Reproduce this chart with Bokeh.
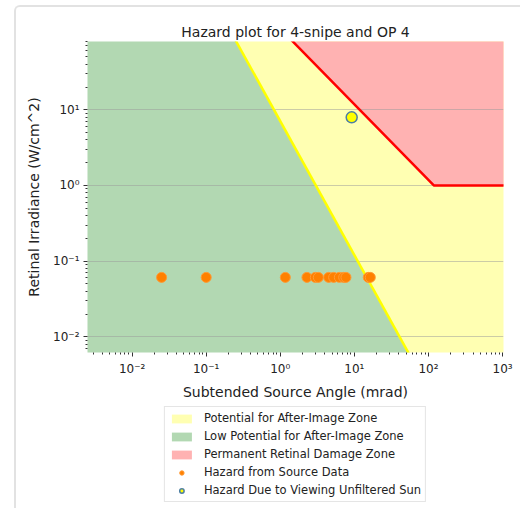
from bokeh.plotting import figure
from bokeh.models import Legend, LegendItem, FixedTicker, Range1d
from bokeh.layouts import column
from bokeh.embed import file_html
from bokeh.resources import INLINE

# ---------------- data ----------------
title_text = "Hazard plot for 4-snipe and OP 4"
x_label = "Subtended Source Angle (mrad)"
y_label = "Retinal Irradiance (W/cm^2)"

# after-image threshold boundary (yellow line)
ai_x = [0.1, 100.0]
ai_y = [417.0, 0.00204]
# permanent retinal damage boundary (red line)
burn_x = [1.0, 118.0, 1.0e5]
burn_y = [118.0, 1.0, 1.0]

# hazard from source data
src_x = [0.025, 0.1, 1.17, 2.29, 2.97, 3.26, 4.5, 5.25, 6.26, 7.17, 7.7, 15.4, 16.4]
src_y = [0.061, 0.061, 0.061, 0.061, 0.061, 0.061, 0.061, 0.061, 0.061, 0.061, 0.061, 0.061, 0.061]
# hazard from unfiltered sun
sun_x = [9.2]
sun_y = [7.95]

legend_labels = ["Potential for After-Image Zone", "Low Potential for After-Image Zone",
                 "Permanent Retinal Damage Zone", "Hazard from Source Data",
                 "Hazard Due to Viewing Unfiltered Sun"]

x_major = [0.01, 0.1, 1, 10, 100, 1000]
x_major_labels = ["10⁻²", "10⁻¹", "10⁰", "10¹", "10²", "10³"]
y_major = [0.01, 0.1, 1, 10]
y_major_labels = ["10⁻²", "10⁻¹", "10⁰", "10¹"]

x_lo, x_hi = 0.0025, 1030.0
y_lo, y_hi = 0.0062, 80.0
FAR_LO, FAR_HI = 1e-5, 1e5

FONT = "DejaVu Sans"
C_GREEN, C_YELLOW, C_RED = "#b2d8b2", "#ffffb2", "#ffb2b2"
C_SRC, C_SRC_EDGE = "#ff8000", "#ff9a33"
C_SUN, C_SUN_EDGE = "#ffff00", "#4d7fa3"

p = figure(width=504, height=397, x_axis_type="log", y_axis_type="log",
           x_range=Range1d(x_lo, x_hi), y_range=Range1d(y_lo, y_hi),
           output_backend="svg", toolbar_location=None,
           min_border_left=71, min_border_right=17, min_border_top=34, min_border_bottom=52)
p.outline_line_color = None
p.background_fill_color = "white"
p.border_fill_color = "white"

p.title.text = title_text
p.title.align = "center"
p.title.text_font = FONT
p.title.text_font_style = "normal"
p.title.text_font_size = "14px"
p.title.text_color = "#222222"
p.title.standoff = 4

# zones
p.patch(x=[FAR_LO, ai_x[0], ai_x[1], FAR_LO], y=[ai_y[0], ai_y[0], ai_y[1], ai_y[1]],
        fill_color=C_GREEN, line_color=None)
p.patch(x=[ai_x[0], FAR_HI, FAR_HI, ai_x[1]], y=[ai_y[0], ai_y[0], ai_y[1], ai_y[1]],
        fill_color=C_YELLOW, line_color=None)
p.patch(x=burn_x + [burn_x[-1], burn_x[0]], y=burn_y + [burn_y[0], burn_y[0]],
        fill_color=C_RED, line_color=None)

# horizontal grid at the major y ticks: over the fills, under the lines and markers
p.xgrid.visible = False
p.ygrid.visible = False
p.hspan(y=y_major, line_color="#9a9a9a", line_alpha=0.5, line_width=1)

p.line(ai_x, ai_y, line_color="#ffff00", line_width=2.5)
p.line(burn_x, burn_y, line_color="#ff0000", line_width=2.5)

p.scatter(src_x, src_y, size=10, fill_color=C_SRC, line_color=C_SRC_EDGE, line_width=1)
p.scatter(sun_x, sun_y, size=11, fill_color=C_SUN, line_color=C_SUN_EDGE, line_width=1.5)

# axes
x_minor = [m * 10.0 ** e for e in range(-3, 3) for m in range(2, 10)]
y_minor = [m * 10.0 ** e for e in range(-3, 2) for m in range(2, 10)]
p.xaxis.ticker = FixedTicker(ticks=x_major, minor_ticks=x_minor)
p.yaxis.ticker = FixedTicker(ticks=y_major, minor_ticks=y_minor)
p.xaxis.major_label_overrides = dict(zip(x_major, x_major_labels))
p.yaxis.major_label_overrides = dict(zip(y_major, y_major_labels))

for ax in (p.xaxis[0], p.yaxis[0]):
    ax.axis_line_color = None
    ax.major_tick_line_color = "#333333"
    ax.minor_tick_line_color = "#333333"
    ax.major_tick_out = 4
    ax.major_tick_in = 0
    ax.minor_tick_out = 2
    ax.minor_tick_in = 0
    ax.major_label_text_font = FONT
    ax.major_label_text_font_size = "12px"
    ax.major_label_text_color = "#222222"
    ax.axis_label_text_font = FONT
    ax.axis_label_text_font_size = "14px"
    ax.axis_label_text_font_style = "normal"
    ax.axis_label_text_color = "#222222"

p.xaxis.axis_label = x_label
p.yaxis.axis_label = y_label
p.xaxis.major_label_standoff = 5
p.yaxis.major_label_standoff = 4
p.xaxis.axis_label_standoff = 5
p.yaxis.axis_label_standoff = 8

# ---- legend panel (separate figure under the plot) ----
lg = figure(width=504, height=104, x_range=Range1d(0, 1), y_range=Range1d(0, 1),
            output_backend="svg", toolbar_location=None,
            x_axis_location=None, y_axis_location=None,
            min_border_left=54, min_border_right=0, min_border_top=0, min_border_bottom=0)
lg.outline_line_color = None
lg.grid.visible = False
lg.border_fill_color = "white"
lg.background_fill_color = "white"

# legend proxies: one point each, placed outside the visible range
proxy = [-5.0, -4.0, -4.0]
r_yel = lg.patch(x=proxy, y=proxy[::-1], fill_color=C_YELLOW, line_color=None)
r_grn = lg.patch(x=proxy, y=proxy[::-1], fill_color=C_GREEN, line_color=None)
r_red = lg.patch(x=proxy, y=proxy[::-1], fill_color=C_RED, line_color=None)
r_src = lg.scatter(x=proxy[:1], y=proxy[:1], size=9, fill_color=C_SRC, line_color=C_SRC_EDGE, line_width=1)
r_sun = lg.scatter(x=proxy[:1], y=proxy[:1], size=10, fill_color=C_SUN, line_color=C_SUN_EDGE, line_width=1.5)

legend = Legend(items=[LegendItem(label=t, renderers=[r])
                       for t, r in zip(legend_labels, [r_yel, r_grn, r_red, r_src, r_sun])],
                location="top_center")
legend.label_text_font = FONT
legend.label_text_font_size = "11.5px"
legend.label_text_color = "#222222"
legend.glyph_width = 25
legend.glyph_height = 11
legend.label_height = 12
legend.spacing = 4
legend.padding = 4
legend.margin = 2
legend.label_standoff = 10
legend.border_line_color = "#cccccc"
legend.border_line_width = 1
legend.background_fill_alpha = 1
lg.add_layout(legend, "center")

layout = column(p, lg, spacing=0,
                styles={"margin-left": "14px", "margin-top": "5px",
                        "border-left": "2px solid #e2e2e2", "border-top": "2px solid #e2e2e2",
                        "border-top-left-radius": "6px"})
open("out.html", "w").write(file_html(layout, INLINE))
